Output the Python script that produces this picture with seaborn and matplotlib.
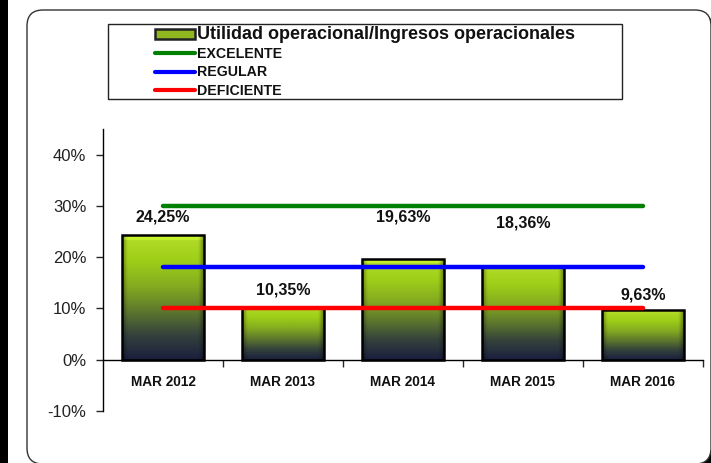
import numpy as np
import pandas as pd
import matplotlib
matplotlib.use("Agg")
import matplotlib.pyplot as plt
import seaborn as sns
from matplotlib.patches import FancyBboxPatch, Rectangle, Patch
from matplotlib.lines import Line2D
from matplotlib.transforms import IdentityTransform
from matplotlib.colors import LinearSegmentedColormap

categories = ["MAR 2012", "MAR 2013", "MAR 2014", "MAR 2015", "MAR 2016"]
values = [24.25, 10.35, 19.63, 18.36, 9.63]
value_labels = ["24,25%", "10,35%", "19,63%", "18,36%", "9,63%"]
label_y = [27.9, 13.6, 27.9, 26.7, 12.7]
excelente = [30, 30, 30, 30, 30]
regular = [18, 18, 18, 18, 18]
deficiente = [10, 10, 10, 10, 10]
y_ticks = [-10, 0, 10, 20, 30, 40]

sns.set_style("white")
plt.rcParams["font.family"] = ["Liberation Sans", "DejaVu Sans"]

W, H = 711, 463
fig = plt.figure(figsize=(W / 100, H / 100), dpi=100)
fig.patch.set_facecolor("white")

# frame decorations (pixel coords, origin bottom-left)
ident = IdentityTransform()
fig.patches.append(Rectangle((0, 0), 8, H, transform=ident, facecolor="black",
                             edgecolor="none", zorder=0))
shadow = FancyBboxPatch((34, -8), 684, 454, boxstyle="round,pad=0,rounding_size=16",
                        transform=ident, facecolor="black", edgecolor="none", zorder=0)
fig.patches.append(shadow)
frame = FancyBboxPatch((27, -1), 684, 454, boxstyle="round,pad=0,rounding_size=16",
                       transform=ident, facecolor="white", edgecolor="#333333",
                       linewidth=1.0, zorder=1)
fig.patches.append(frame)
fig.patches.append(Rectangle((108, H - 99), 514, 75, transform=ident, facecolor="white",
                             edgecolor="#222222", linewidth=1.0, zorder=2))

ax = fig.add_axes([103 / W, 1 - 411 / H, 600 / W, (411 - 129) / H])
ax.set_facecolor("none")
ax.set_zorder(3)

df = pd.DataFrame({"cat": categories, "val": values})
sns.barplot(data=df, x="cat", y="val", width=0.68, color="#9acd1a", ax=ax,
            edgecolor="black", linewidth=1.8, saturation=1, zorder=3)

# gradient fill for bars
cmap = LinearSegmentedColormap.from_list(
    "g", ["#1a1e3e", "#34423c", "#5f7a2c", "#86ad20", "#9fcf18", "#b3dc2a"])
ny, nx = 200, 60
vert = np.linspace(0, 1, ny)[:, None]
rgb = cmap(np.repeat(vert, nx, axis=1))[:, :, :3]
xx = np.linspace(0, 1, nx)[None, :]
edge = 1 - 0.35 * np.clip(1 - np.minimum(xx, 1 - xx) / 0.06, 0, 1)
rgb = rgb * edge[:, :, None]
top_hl = np.ones((ny, 1))
top_hl[-8:] = 1.12
rgb = np.clip(rgb * top_hl[:, :, None], 0, 1)
for p in ax.patches:
    x0, y0 = p.get_x(), p.get_y()
    w, h = p.get_width(), p.get_height()
    p.set_facecolor("none")
    im = ax.imshow(rgb, extent=[x0, x0 + w, y0, y0 + h], origin="lower",
                   aspect="auto", zorder=2.9, interpolation="bilinear")
    im.set_clip_path(p)

xpos = np.arange(len(categories))
lw = 3.2
sns.lineplot(x=xpos, y=excelente, color="#008000", linewidth=lw, ax=ax, zorder=4)
sns.lineplot(x=xpos, y=regular, color="#0000ff", linewidth=lw, ax=ax, zorder=4)
sns.lineplot(x=xpos, y=deficiente, color="#ff0000", linewidth=lw, ax=ax, zorder=4)

for i, (t, yv) in enumerate(zip(value_labels, label_y)):
    ax.text(i, yv, t, ha="center", va="center", fontsize=11.5, fontweight="bold",
            color="#111111", zorder=5)

ax.set_xlim(-0.5, len(categories) - 0.5)
ax.set_ylim(-10, 45)
ax.set_yticks(y_ticks)
ax.set_yticklabels([f"{v}%" for v in y_ticks], fontsize=12, color="#222222")
ax.set_xlabel("")
ax.set_ylabel("")

for s in ["top", "right"]:
    ax.spines[s].set_visible(False)
ax.spines["left"].set_color("black")
ax.spines["left"].set_linewidth(1.0)
ax.spines["bottom"].set_position(("data", 0))
ax.spines["bottom"].set_color("black")
ax.spines["bottom"].set_linewidth(1.0)
ax.spines["bottom"].set_zorder(6)

ax.tick_params(axis="y", which="major", direction="out", length=5, width=1,
               left=True, pad=7)
ax.set_xticks(xpos)
ax.set_xticks(np.arange(0.5, len(categories), 1), minor=True)
ax.tick_params(axis="x", which="major", length=0, pad=11)
ax.tick_params(axis="x", which="minor", direction="out", length=5, width=1, bottom=True)
for lab in ax.get_xticklabels():
    lab.set_fontweight("bold")
    lab.set_fontsize(9.8)
    lab.set_color("#111111")
ax.grid(False)

handles = [
    Patch(facecolor="#8fb820", edgecolor="#222222", linewidth=1.8),
    Line2D([0], [0], color="#008000", linewidth=3),
    Line2D([0], [0], color="#0000ff", linewidth=3),
    Line2D([0], [0], color="#ff0000", linewidth=3),
]
labels = ["Utilidad operacional/Ingresos operacionales", "EXCELENTE", "REGULAR", "DEFICIENTE"]
leg = fig.legend(handles, labels, loc="upper left",
                 bbox_to_anchor=(155 / W, 1 - 26 / H), frameon=False,
                 prop={"weight": "bold", "size": 10.2}, handlelength=2.8,
                 handleheight=0.65, handletextpad=0.15, labelspacing=0.3,
                 borderaxespad=0, borderpad=0)
leg.set_zorder(10)
texts = leg.get_texts()
texts[0].set_fontsize(13)
for t in texts:
    t.set_color("#111111")

fig.savefig("out.png", dpi=100, facecolor="white")
